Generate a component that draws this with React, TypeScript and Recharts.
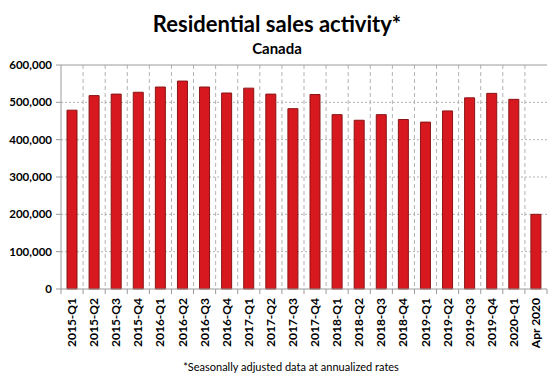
import { BarChart, Bar, XAxis, YAxis, CartesianGrid, ReferenceLine } from 'recharts'

const periods = [
  '2015-Q1', '2015-Q2', '2015-Q3', '2015-Q4',
  '2016-Q1', '2016-Q2', '2016-Q3', '2016-Q4',
  '2017-Q1', '2017-Q2', '2017-Q3', '2017-Q4',
  '2018-Q1', '2018-Q2', '2018-Q3', '2018-Q4',
  '2019-Q1', '2019-Q2', '2019-Q3', '2019-Q4',
  '2020-Q1', 'Apr 2020',
]

const sales = [
  479000, 518000, 522000, 527000,
  541000, 557000, 541000, 525000,
  538000, 522000, 483000, 521000,
  467000, 452000, 467000, 454000,
  447000, 477000, 512000, 524000,
  508000, 200000,
]

const yTicks = [0, 100000, 200000, 300000, 400000, 500000, 600000]

const data = periods.map((period, i) => ({ period, sales: sales[i] }))

const W = 554
const H = 379
const LEFT = 61
const RIGHT = 7
const TOP = 65
const BOTTOM = 90
const plotW = W - LEFT - RIGHT
const band = plotW / periods.length
const FONT = 'Lato, "Noto Sans", sans-serif'
const GRID = '#b3b3b3'
const AXIS = '#9a9a9a'

const XTick = (props: any) => {
  const { x, payload, index } = props
  const axisY = H - BOTTOM
  return (
    <g>
      <line x1={x - band / 2} x2={x - band / 2} y1={axisY} y2={axisY + 5} stroke={AXIS} />
      {index === periods.length - 1 && (
        <line x1={x + band / 2} x2={x + band / 2} y1={axisY} y2={axisY + 5} stroke={AXIS} />
      )}
      <text
        x={0}
        y={0}
        transform={`translate(${x + 4},${axisY + 9}) rotate(-90)`}
        textAnchor="end"
        fontFamily={FONT}
        fontWeight={700}
        fontSize={12}
        fill="#000"
      >
        {payload.value}
      </text>
    </g>
  )
}

export default function App() {
  return (
    <div style={{ position: 'absolute', left: 0, top: 0, width: W, height: H, background: '#fff', fontFamily: FONT }}>
      <div style={{ position: 'absolute', left: 0, width: W, top: 10, textAlign: 'center', fontSize: 22, fontWeight: 700, color: '#000' }}>
        Residential sales activity*
      </div>
      <div style={{ position: 'absolute', left: 0, width: W, top: 39, textAlign: 'center', fontSize: 15, fontWeight: 700, color: '#000' }}>
        Canada
      </div>
      <div style={{ position: 'absolute', left: 291, top: 360, transform: 'translateX(-50%)', whiteSpace: 'nowrap', fontSize: 11, color: '#000' }}>
        *Seasonally adjusted data at annualized rates
      </div>
      <BarChart
        width={W}
        height={H}
        data={data}
        margin={{ top: TOP, right: RIGHT, left: 0, bottom: 0 }}
        barCategoryGap={6}
        style={{ position: 'absolute', left: 0, top: 0 }}
      >
        <CartesianGrid
          stroke={GRID}
          strokeDasharray="4 3"
          horizontal={false}
          verticalCoordinatesGenerator={({ offset }: any) =>
            periods.slice(1).map((_, i) => offset.left + ((i + 1) * offset.width) / periods.length)
          }
        />
        <CartesianGrid
          stroke={GRID}
          strokeDasharray="2 2"
          vertical={false}
          horizontalValues={[100000, 200000, 300000, 400000, 500000]}
        />
        <XAxis
          dataKey="period"
          interval={0}
          height={BOTTOM}
          tickLine={false}
          axisLine={{ stroke: AXIS }}
          tick={<XTick />}
        />
        <YAxis
          width={LEFT}
          domain={[0, 600000]}
          ticks={yTicks}
          tickFormatter={(v: number) => v.toLocaleString('en-US')}
          tick={{ fontFamily: FONT, fontWeight: 700, fontSize: 11.5, fill: '#000' }}
          tickSize={5}
          tickMargin={4}
          tickLine={{ stroke: AXIS }}
          axisLine={{ stroke: AXIS }}
        />
        <YAxis
          yAxisId="border"
          orientation="right"
          width={0}
          domain={[0, 600000]}
          tick={false}
          tickLine={false}
          axisLine={{ stroke: AXIS }}
        />
        <ReferenceLine y={600000} stroke={AXIS} />
        <Bar dataKey="sales" fill="#d7191f" stroke="#8a1414" strokeWidth={1} isAnimationActive={false} />
      </BarChart>
    </div>
  )
}
